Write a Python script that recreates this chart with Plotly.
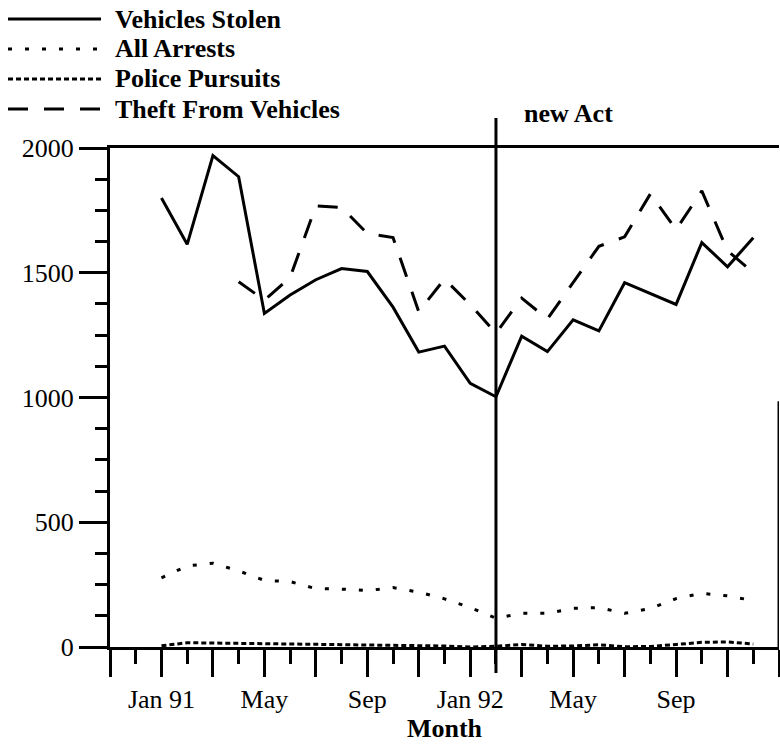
import plotly.graph_objects as go

# ---- data -------------------------------------------------------------
months = ["Nov 90", "Dec 90", "Jan 91", "Feb 91", "Mar 91", "Apr 91", "May 91",
          "Jun 91", "Jul 91", "Aug 91", "Sep 91", "Oct 91", "Nov 91", "Dec 91",
          "Jan 92", "Feb 92", "Mar 92", "Apr 92", "May 92", "Jun 92", "Jul 92",
          "Aug 92", "Sep 92", "Oct 92", "Nov 92", "Dec 92", "Jan 93"]

vehicles_stolen = [None, None,
                   1800, 1614, 1970, 1885, 1337, 1411, 1472, 1517, 1505, 1362, 1182, 1206,
                   1057, 1003, 1246, 1184, 1311, 1267, 1460, 1418, 1373, 1621, 1524, 1640,
                   None]
all_arrests = [None, None,
               277, 325, 336, 305, 267, 262, 234, 232, 226, 238, 220, 193,
               158, 115, 135, 135, 155, 158, 135, 154, 194, 215, 205, 186,
               None]
police_pursuits = [None, None,
                   5, 17, 16, 15, 14, 13, 12, 11, 10, 9, 8, 4,
                   0, 3, 10, 3, 4, 9, 1, 2, 10, 19, 20, 12,
                   None]
theft_from_vehicles = [None, None, None, None, None,
                       1464, 1390, 1481, 1768, 1762, 1657, 1641, 1344, 1475,
                       1372, 1258, 1398, 1315, 1460, 1606, 1644, 1816, 1673, 1828, 1588, 1500,
                       None]

tick_text = {"Jan 91": "Jan 91", "May 91": "May", "Sep 91": "Sep",
             "Jan 92": "Jan 92", "May 92": "May", "Sep 92": "Sep"}
y_major = [0, 500, 1000, 1500, 2000]
y_minor = [125, 250, 375, 625, 750, 875, 1125, 1250, 1375, 1625, 1750, 1875]
act_month = "Feb 92"
act_label = "new Act"

# ---- figure -----------------------------------------------------------
FONT = "Liberation Serif"
W, H = 780, 746
ML, MR, MT, MB = 110, 1, 148, 99
PW, PH = W - ML - MR, H - MT - MB


def px_x(p):
    return (p - ML) / PW


def px_y(p):
    return 1 - (p - MT) / PH


x_idx = list(range(len(months)))

series = [
    ("Vehicles Stolen", vehicles_stolen, "solid"),
    ("All Arrests", all_arrests, "4px,13px"),
    ("Police Pursuits", police_pursuits, "5px,3px"),
    ("Theft From Vehicles", theft_from_vehicles, "20px,16px"),
]

fig = go.Figure()
for name, vals, dash in series:
    fig.add_trace(go.Scatter(
        x=x_idx, y=vals, name=name, mode="lines",
        line=dict(color="black", width=3, dash=dash),
        text=months, hovertemplate="%{text}: %{y}<extra>" + name + "</extra>",
        showlegend=False,
    ))

# hand-drawn style legend (long line samples, as in the original)
for i, (name, vals, dash) in enumerate(series):
    yy = px_y(19 + 30 * i)
    fig.add_shape(type="line", xref="paper", yref="paper",
                  x0=px_x(8), x1=px_x(101), y0=yy, y1=yy,
                  line=dict(color="black", width=3, dash=dash))
    fig.add_annotation(xref="paper", yref="paper", x=px_x(113), y=yy,
                       xanchor="left", yanchor="middle", showarrow=False,
                       text="<b>" + name + "</b>",
                       font=dict(family=FONT, size=26, color="black"))

act_x = months.index(act_month)

fig.update_layout(
    width=W, height=H,
    margin=dict(l=ML, r=MR, t=MT, b=MB, autoexpand=False),
    paper_bgcolor="white", plot_bgcolor="white",
    font=dict(family=FONT, size=26, color="black"),
    showlegend=False,
    xaxis=dict(
        range=[0, len(months) - 1], automargin=False,
        showgrid=False, zeroline=False,
        showline=True, linecolor="black", linewidth=3, mirror=True,
        ticks="outside", ticklen=27, tickwidth=3, tickcolor="black",
        tickmode="array", tickvals=x_idx[::2],
        ticktext=[tick_text.get(m, "") for m in months[::2]],
        tickfont=dict(family=FONT, size=26),
        minor=dict(tickmode="array", tickvals=x_idx[1::2], ticks="outside",
                   ticklen=14, tickwidth=3, tickcolor="black", showgrid=False),
        title=dict(text="<b>Month</b>", font=dict(family=FONT, size=26),
                   standoff=4),
    ),
    yaxis=dict(
        range=[0, 2000], automargin=False,
        showgrid=False, zeroline=False,
        showline=True, linecolor="black", linewidth=3,
        ticks="outside", ticklen=28, tickwidth=3, tickcolor="black",
        tickmode="array", tickvals=y_major, ticktext=[str(v) for v in y_major],
        tickfont=dict(family=FONT, size=26),
        minor=dict(tickmode="array", tickvals=y_minor, ticks="outside",
                   ticklen=12, tickwidth=3, tickcolor="black", showgrid=False),
    ),
)

# "new Act" divider line
fig.add_shape(type="line", xref="x", yref="paper", x0=act_x, x1=act_x,
              y0=px_y(673), y1=px_y(118), line=dict(color="black", width=3))
fig.add_annotation(xref="x", yref="paper", x=act_x, y=px_y(113), xanchor="left",
                   yanchor="middle", xshift=26, showarrow=False,
                   text="<b>" + act_label + "</b>",
                   font=dict(family=FONT, size=26, color="black"))
# right frame fragment seen in the original scan
fig.add_shape(type="line", xref="x", yref="y", x0=len(months) - 1, x1=len(months) - 1,
              y0=0, y1=985, line=dict(color="black", width=3))

# remove the browser's default 8px body margin so the figure fills the window
fig.write_html("out.html",
               config={"displayModeBar": False},
               post_script="document.body.style.margin='0px';"
                           "document.body.style.overflow='hidden';")
